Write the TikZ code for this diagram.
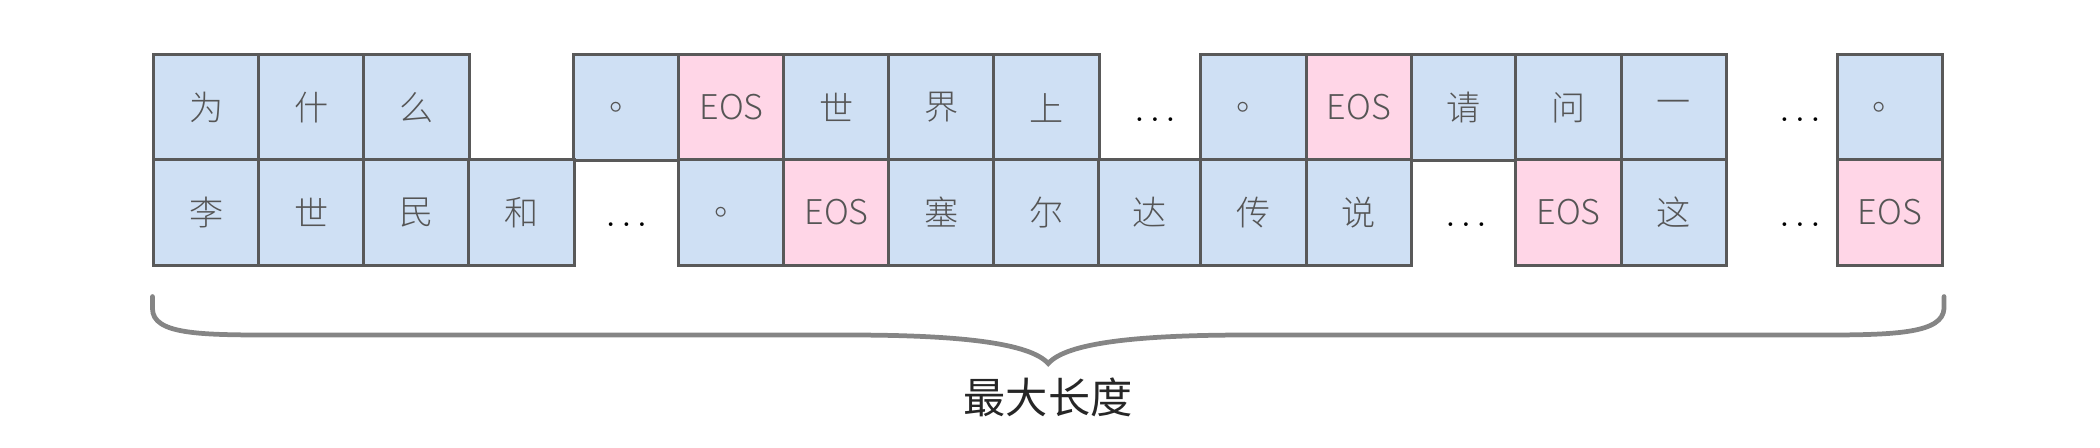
\documentclass[tikz,border=0pt]{standalone}
\usepackage{fontspec}
\usepackage{xcolor}
\usepackage{tikz}
\usetikzlibrary{calc,positioning}
\newfontfamily\cjk{Noto Sans CJK SC}
\newfontfamily\cjklight{Noto Sans CJK SC Light}
\definecolor{cellblue}{HTML}{CFE0F4}
\definecolor{eospink}{HTML}{FFD6E7}
\definecolor{cellline}{HTML}{595959}
\definecolor{celltext}{HTML}{555555}
\definecolor{bracegray}{HTML}{858585}
\tikzstyle{cell}  = [draw=cellline, line width=0.85pt, fill=cellblue, minimum width=1.05cm, minimum height=1.05cm, inner sep=0pt, text=celltext, font=\cjklight\fontsize{9.7}{12}\selectfont]
\tikzstyle{eos}   = [cell, fill=eospink]
\tikzstyle{gap}   = [inner sep=0pt, text=black, font=\fontsize{10}{12}\selectfont]
\tikzstyle{brace} = [line width=1.35pt, draw=bracegray, line cap=round]

\begin{document}
\begin{tikzpicture}[x=0.01cm, y=-0.01cm]
		\useasboundingbox (0,0) rectangle (2100,447);

		% first row
		\node[cell] (top1) at (206.5,107.5) {为};
		\node[cell] (top2) at (311.5,107.5) {什};
		\node[cell] (top3) at (416.5,107.5) {么};
		\node[cell] (top4) at (626.5,107.5) {。};
		\node[eos]  (top5) at (731.5,107.5) {EOS};
		\node[cell] (top6) at (836.5,107.5) {世};
		\node[cell] (top7) at (941.5,107.5) {界};
		\node[cell] (top8) at (1046.5,107.5) {上};
		\node[gap]  (topdotsA) at (1155,120) {$\ldots$};
		\node[cell] (top9) at (1253.5,107.5) {。};
		\node[eos]  (top10) at (1358.8,107.5) {EOS};
		\node[cell] (top11) at (1463.9,107.5) {请};
		\node[cell] (top12) at (1568.5,107.5) {问};
		\node[cell] (top13) at (1673.8,107.5) {一};
		\node[gap]  (topdotsB) at (1800,120) {$\ldots$};
		\node[cell] (top14) at (1890,107.5) {。};

		% second row
		\node[cell] (bot1) at (206.5,212.5) {李};
		\node[cell] (bot2) at (311.5,212.5) {世};
		\node[cell] (bot3) at (416.5,212.5) {民};
		\node[cell] (bot4) at (521.5,212.5) {和};
		\node[gap]  (botdotsA) at (626.5,225) {$\ldots$};
		\node[cell] (bot5) at (731.5,212.5) {。};
		\node[eos]  (bot6) at (836.5,212.5) {EOS};
		\node[cell] (bot7) at (941.5,212.5) {塞};
		\node[cell] (bot8) at (1046.5,212.5) {尔};
		\node[cell, minimum width=1.02cm] (bot9) at (1150,212.5) {达};
		\node[cell] (bot10) at (1253.5,212.5) {传};
		\node[cell] (bot11) at (1358.8,212.5) {说};
		\node[gap]  (botdotsB) at (1466,225) {$\ldots$};
		\node[eos]  (bot12) at (1568.5,212.5) {EOS};
		\node[cell] (bot13) at (1673.8,212.5) {这};
		\node[gap]  (botdotsC) at (1800,225) {$\ldots$};
		\node[eos]  (bot14) at (1890,212.5) {EOS};

		% brace under both rows
		\coordinate (braceL) at ($(bot1.south west)+(0,30)$);
		\coordinate (braceR) at ($(bot14.south east)+(0,30)$);
		\coordinate (braceTip) at ($(braceL)!0.5!(braceR)+(0,67)$);
		\draw[brace] (braceL) -- ++(0,12) .. controls ++(0,26) and (200,335) .. (275,335) -- (850,335)
			.. controls (960,335) and (1030,343) .. (braceTip)
			.. controls (1066,343) and (1136,335) .. (1246,335) -- (1822,335)
			.. controls (1897,335) and (1942.5,333) .. ($(braceR)+(0,12)$) -- (braceR);
		\node[font=\cjk\fontsize{12}{14}\selectfont, text=black!85] (maxlen) at (1048,397) {最大长度};
	\end{tikzpicture}
\end{document}
